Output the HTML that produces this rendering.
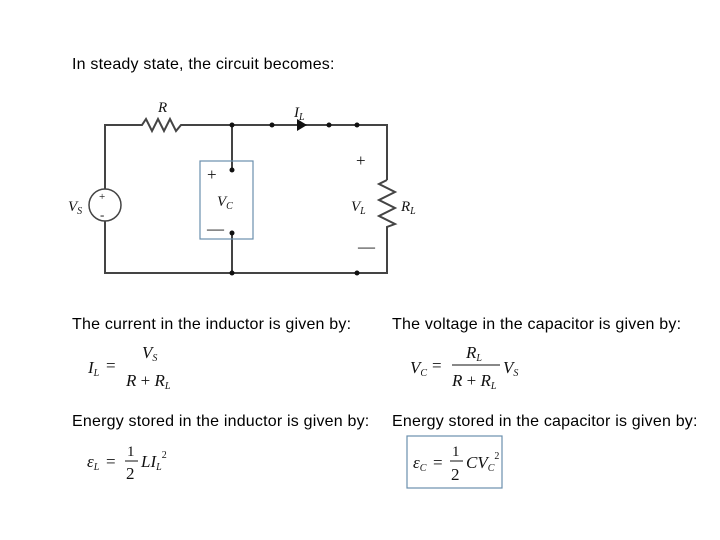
<!DOCTYPE html>
<html><head><style>
body{margin:0;width:720px;height:540px;background:#fff;position:relative;overflow:hidden;font-family:"Liberation Sans",sans-serif;}
.t{position:absolute;font-size:16px;letter-spacing:0.2px;color:#000;white-space:nowrap;}
svg{position:absolute;left:0;top:0;}
</style></head><body>
<div class="t" style="left:72px;top:56px">In steady state, the circuit becomes:</div>
<div class="t" style="left:72px;top:316px">The current in the inductor is given by:</div>
<div class="t" style="left:392px;top:316px">The voltage in the capacitor is given by:</div>
<div class="t" style="left:72px;top:413px">Energy stored in the inductor is given by:</div>
<div class="t" style="left:392px;top:413px">Energy stored in the capacitor is given by:</div>
<svg width="720" height="540" viewBox="0 0 720 540" font-family="Liberation Serif, serif" font-style="italic">
<g stroke="#444" stroke-width="2" fill="none">
<path d="M105 189V125H142l4-6 6 12 6-12 6 12 6-12 6 12 5-6H387V180"/>
<path d="M387 180l-8 4 16 8-16 8 16 8-16 8 16 8-8 3V273H105V221"/>
<path d="M232 125V170M232 233V273"/>
<circle cx="105" cy="205" r="16" stroke-width="1.5"/>
</g>
<rect x="200" y="161" width="53" height="78" fill="none" stroke="#6a8fae" stroke-width="1.2"/>
<g fill="#111">
<circle cx="232" cy="125" r="2.5"/><circle cx="272" cy="125" r="2.5"/><circle cx="329" cy="125" r="2.5"/><circle cx="357" cy="125" r="2.5"/>
<circle cx="232" cy="170" r="2.5"/><circle cx="232" cy="233" r="2.5"/><circle cx="232" cy="273" r="2.5"/><circle cx="357" cy="273" r="2.5"/>
<path d="M297 119l10 6-10 6z"/>
</g>
<g font-size="15" fill="#111">
<text x="158" y="112">R</text>
<text x="294" y="117">I<tspan font-size="10" dy="3">L</tspan></text>
<text x="68" y="211">V<tspan font-size="10" dy="3">S</tspan></text>
<text x="217" y="206">V<tspan font-size="10" dy="3">C</tspan></text>
<text x="351" y="211">V<tspan font-size="10" dy="3">L</tspan></text>
<text x="401" y="211">R<tspan font-size="10" dy="3">L</tspan></text>
</g>
<g font-style="normal" font-size="17" fill="#111">
<text x="99" y="200" font-size="11">+</text><text x="100" y="219" font-size="13">-</text>
<text x="207" y="180">+</text><text x="207" y="234">—</text>
<text x="356" y="166">+</text><text x="358" y="252">—</text>
</g>
<g font-size="17" fill="#111">
<text x="88" y="373">I<tspan font-size="10" dy="3">L</tspan></text>
<text x="106" y="371" font-style="normal">=</text>
<text x="142" y="358">V<tspan font-size="10" dy="3">S</tspan></text>
<text x="126" y="386">R <tspan font-style="normal">+</tspan> R<tspan font-size="10" dy="3">L</tspan></text>
<text x="410" y="373">V<tspan font-size="10" dy="3">C</tspan></text>
<text x="432" y="371" font-style="normal">=</text>
<text x="466" y="358">R<tspan font-size="10" dy="3">L</tspan></text>
<line x1="452" y1="365" x2="500" y2="365" stroke="#111" stroke-width="1"/>
<text x="452" y="386">R <tspan font-style="normal">+</tspan> R<tspan font-size="10" dy="3">L</tspan></text>
<text x="503" y="373">V<tspan font-size="10" dy="3">S</tspan></text>
<text x="87" y="467">ε<tspan font-size="10" dy="3">L</tspan></text>
<text x="106" y="467" font-style="normal">=</text>
<text x="127" y="456" font-style="normal" font-size="15">1</text>
<line x1="125" y1="461" x2="138" y2="461" stroke="#111" stroke-width="1"/>
<text x="126" y="479" font-style="normal">2</text>
<text x="141" y="467">LI<tspan font-size="10" dy="3">L</tspan><tspan font-size="10" font-style="normal" dy="-12">2</tspan></text>
<text x="413" y="468">ε<tspan font-size="10" dy="3">C</tspan></text>
<text x="433" y="468" font-style="normal">=</text>
<text x="452" y="456" font-style="normal" font-size="15">1</text>
<line x1="450" y1="461" x2="463" y2="461" stroke="#111" stroke-width="1"/>
<text x="451" y="480" font-style="normal">2</text>
<text x="466" y="468">CV<tspan font-size="10" dy="3">C</tspan><tspan font-size="10" font-style="normal" dy="-12">2</tspan></text>
</g>
<rect x="407" y="436" width="95" height="52" fill="none" stroke="#6a8fae" stroke-width="1.2"/>
</svg>
</body></html>
